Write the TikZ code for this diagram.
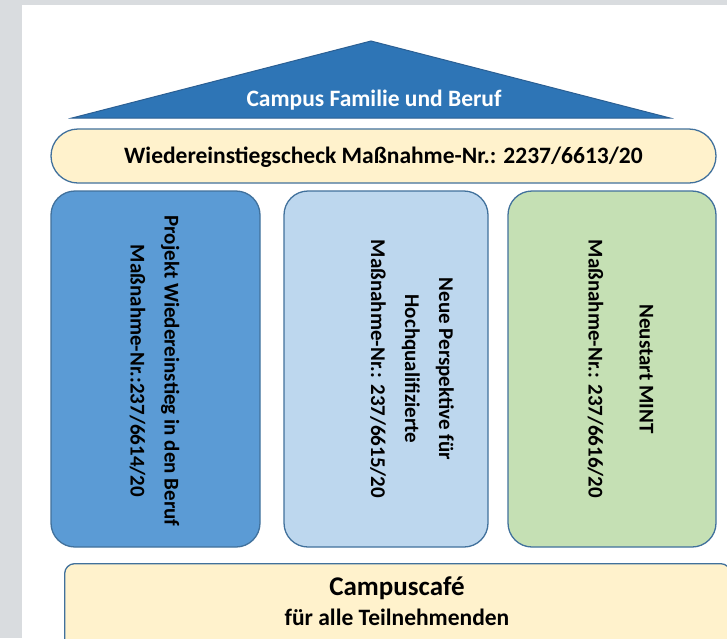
\documentclass[tikz,border=0pt]{standalone}
\usepackage{fontspec}
\setmainfont{Carlito}
\definecolor{bggray}{HTML}{D9DCDF}
\definecolor{roofblue}{HTML}{2E75B6}
\definecolor{roofedge}{HTML}{2B5F93}
\definecolor{edgeblue}{HTML}{41719C}
\definecolor{creamfill}{HTML}{FFF2CC}
\definecolor{colone}{HTML}{5B9BD5}
\definecolor{coltwo}{HTML}{BDD7EE}
\definecolor{colthree}{HTML}{C5E0B4}
\begin{document}
\begin{tikzpicture}[x=1pt,y=-1pt,
  frame/.style={draw=edgeblue, line width=1.3pt},
  colbox/.style={frame, rounded corners=24pt, minimum height=356pt, inner sep=0pt},
  vtext/.style={rotate=-90, font=\bfseries\fontsize{21}{34}\selectfont, align=center, text=black, inner sep=0pt},
  htext/.style={font=\bfseries\fontsize{23.5}{28}\selectfont, text=black, inner sep=0pt},
]
\useasboundingbox (0,0) rectangle (727,638);
\fill[bggray] (0,0) rectangle (727,638);
\fill[white] (22,5) rectangle (727,638);
\begin{scope}
\clip (0,0) rectangle (727,638);
% roof
\coordinate (apex) at (371,41);
\coordinate (bl) at (72,118);
\coordinate (br) at (670,118);
\draw[fill=roofblue, draw=roofedge, line width=1pt] (bl) -- (apex) -- (br) -- cycle;
\node[htext, text=white] (roof) at (374,100) {Campus Familie und Beruf};
% check bar
\node[frame, fill=creamfill, rounded corners=27pt, minimum width=665pt, minimum height=54pt, inner sep=0pt] (check) at (383.5,156) {};
\node[htext] (checkt) at (383.5,157) {Wiedereinstiegscheck Maßnahme-Nr.: 2237/6613/20};
% columns
\node[colbox, fill=colone, minimum width=209pt] (c1) at (155.5,369) {};
\node[colbox, fill=coltwo, minimum width=204pt] (c2) at (386,369) {};
\node[colbox, fill=colthree, minimum width=208pt] (c3) at (612,369) {};
\node[vtext] (t1) at (154.5,371) {Projekt Wiedereinstieg in den Beruf\\Maßnahme-Nr.:237/6614/20};
\node[vtext] (t2) at (412,369) {Neue Perspektive für\\Hochqualifizierte\\Maßnahme-Nr.: 237/6615/20};
\node[vtext] (t3) at (620.5,369) {Neustart MINT\\[17pt]Maßnahme-Nr.: 237/6616/20};
% cafe
\node[frame, fill=creamfill, rounded corners=10pt, minimum width=666pt, minimum height=110pt, inner sep=0pt, anchor=north west] (cafe) at (64,563) {};
\node[htext, font=\bfseries\fontsize{27}{30}\selectfont] (cafet) at (397,588) {Campuscafé};
\node[htext] (cafes) at (397,617) {für alle Teilnehmenden};
\end{scope}
\end{tikzpicture}
\end{document}
